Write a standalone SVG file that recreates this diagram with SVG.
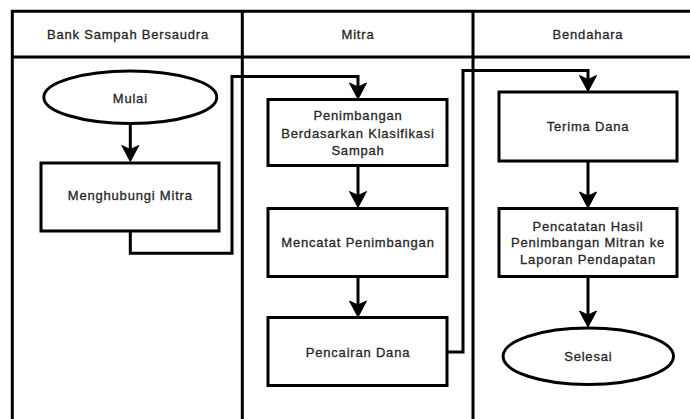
<svg xmlns="http://www.w3.org/2000/svg" width="690" height="419" viewBox="0 0 690 419">
  <style>
    .lane { fill: none; stroke: #000; stroke-width: 3; }
    .shape { fill: #fff; stroke: #000; stroke-width: 3; }
    .edge { fill: none; stroke: #000; stroke-width: 3; stroke-linejoin: miter; }
    .label { font-family: "Liberation Sans", Arial, sans-serif; font-size: 13px; letter-spacing: 0.8px; fill: #262626; stroke: #262626; stroke-width: 0.3; text-anchor: middle; }
  </style>
  <defs>
    <marker id="arrow" markerUnits="userSpaceOnUse" viewBox="-1 -10 19 20" refX="12" refY="0" markerWidth="19" markerHeight="20" orient="auto">
      <path d="M0,-8.5 L16,0 L0,8.5 L4,0 Z" fill="#000" stroke="#000" stroke-width="1" stroke-linejoin="miter"/>
    </marker>
  </defs>

  <rect width="690" height="419" fill="#fff"/>

  <!-- swimlane frame -->
  <g id="pool">
    <path class="lane" d="M12.3,419 V11.3 H700"/>
    <path class="lane" d="M12.3,57 H700"/>
    <path class="lane" d="M242.3,11.3 V419"/>
    <path class="lane" d="M473,11.3 V419"/>
    <text class="label" x="128" y="38.5">Bank Sampah Bersaudra</text>
    <text class="label" x="358" y="38.5">Mitra</text>
    <text class="label" x="588" y="38.5">Bendahara</text>
  </g>

  <!-- connectors -->
  <g id="connectors">
    <path class="edge" d="M130.3,124.5 V157.5" marker-end="url(#arrow)"/>
    <path class="edge" d="M130.3,231 V253.3 H232 V76.5 H358 V95" marker-end="url(#arrow)"/>
    <path class="edge" d="M358,165.5 V203.5" marker-end="url(#arrow)"/>
    <path class="edge" d="M358,276.5 V313" marker-end="url(#arrow)"/>
    <path class="edge" d="M447,352 H463 V70.5 H588 V87.5" marker-end="url(#arrow)"/>
    <path class="edge" d="M588,161 V204" marker-end="url(#arrow)"/>
    <path class="edge" d="M588,276.5 V323" marker-end="url(#arrow)"/>
  </g>

  <g id="mulai">
    <ellipse class="shape" cx="130.3" cy="97.2" rx="86.5" ry="26.3"/>
    <text class="label" x="130.3" y="103">Mulai</text>
  </g>

  <g id="menghubungi-mitra">
    <rect class="shape" x="41" y="163" width="178" height="68"/>
    <text class="label" x="130.3" y="199.5">Menghubungi Mitra</text>
  </g>

  <g id="penimbangan">
    <rect class="shape" x="268" y="99.5" width="179" height="66"/>
    <text class="label" x="358" y="120">Penimbangan</text>
    <text class="label" x="358" y="137.5">Berdasarkan Klasifikasi</text>
    <text class="label" x="358" y="154.5">Sampah</text>
  </g>

  <g id="mencatat-penimbangan">
    <rect class="shape" x="268" y="208.5" width="179" height="68"/>
    <text class="label" x="358" y="246.5">Mencatat Penimbangan</text>
  </g>

  <g id="pencairan-dana">
    <rect class="shape" x="268" y="317.5" width="179" height="68"/>
    <text class="label" x="358" y="356.5">Pencairan Dana</text>
  </g>

  <g id="terima-dana">
    <rect class="shape" x="499" y="92" width="178" height="69"/>
    <text class="label" x="588" y="130.5">Terima Dana</text>
  </g>

  <g id="pencatatan-hasil">
    <rect class="shape" x="499" y="208.5" width="178" height="68"/>
    <text class="label" x="588" y="230.5">Pencatatan Hasil</text>
    <text class="label" x="588" y="247">Penimbangan Mitran ke</text>
    <text class="label" x="588" y="263.5">Laporan Pendapatan</text>
  </g>

  <g id="selesai">
    <ellipse class="shape" cx="588.3" cy="356.3" rx="85.2" ry="28.2"/>
    <text class="label" x="588.3" y="361">Selesai</text>
  </g>
</svg>
